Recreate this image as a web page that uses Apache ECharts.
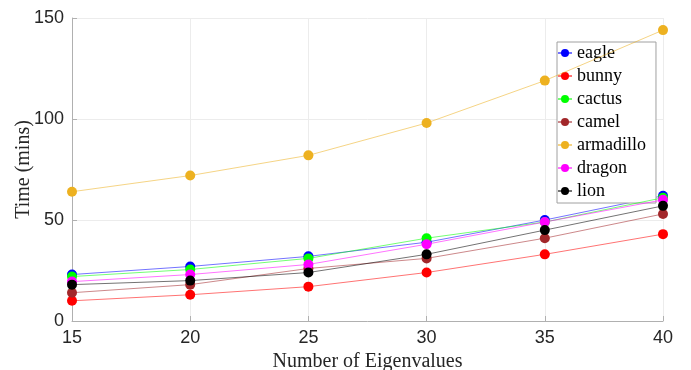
<!DOCTYPE html>
<html>
<head>
<meta charset="utf-8">
<script src="https://cdn.jsdelivr.net/npm/echarts@6/dist/echarts.min.js"></script>
<style>
  html, body { margin: 0; padding: 0; background: #fff; }
  #chart { width: 691px; height: 370px; }
</style>
</head>
<body>
<div id="chart"></div>
<script>
// Eigenvalue count on the x axis
const eigenCounts = [15, 20, 25, 30, 35, 40];

// Runtime in minutes per model
const eagle     = [23, 27, 32, 39, 50, 62];
const bunny     = [10, 13, 17, 24, 33, 43];
const cactus    = [22, 25.5, 31, 41, 49, 61];
const camel     = [14, 18, 26, 31, 41, 53];
const armadillo = [64, 72, 82, 98, 119, 144];
const dragon    = [19.5, 23, 28, 38, 49, 60];
const lion      = [18, 20, 24, 33, 45, 57];

const seriesNames = ['eagle', 'bunny', 'cactus', 'camel', 'armadillo', 'dragon', 'lion'];
const seriesData = [eagle, bunny, cactus, camel, armadillo, dragon, lion];
const seriesColors = ['#0000ff', '#ff0000', '#00ff00', '#a2272a', '#edb120', '#ff00ff', '#000000'];

const serif = 'Liberation Serif';
const sans = 'Liberation Sans';

const chart = echarts.init(document.getElementById('chart'), null, { renderer: 'canvas' });

chart.setOption({
  animation: false,
  backgroundColor: '#ffffff',
  grid: { left: 72, right: 28, top: 18, bottom: 49, outerBoundsMode: 'none', containLabel: false },
  legend: {
    orient: 'vertical',
    left: 557,
    top: 42,
    itemGap: 5,
    itemWidth: 14,
    itemHeight: 10,
    padding: [2, 10, 3, 0],
    backgroundColor: '#ffffff',
    borderColor: '#a0a0a0',
    borderWidth: 1,
    borderRadius: 0,
    textStyle: { fontFamily: serif, fontSize: 18, color: '#000000' },
    data: seriesNames
  },
  xAxis: {
    type: 'value',
    min: 15,
    max: 40,
    interval: 5,
    axisLine: { show: true, lineStyle: { color: '#b0b0b0', width: 1 } },
    axisTick: { show: true, inside: true, length: 5, lineStyle: { color: '#b0b0b0' } },
    axisLabel: { fontFamily: sans, fontSize: 18, color: '#262626', margin: 8 },
    splitLine: { show: true, lineStyle: { color: '#ececec', width: 1 } },
    name: 'Number of Eigenvalues',
    nameLocation: 'middle',
    nameMoveOverlap: false,
    nameGap: 31,
    nameTextStyle: { fontFamily: serif, fontSize: 20, color: '#262626' }
  },
  yAxis: {
    type: 'value',
    min: 0,
    max: 150,
    interval: 50,
    axisLine: { show: true, lineStyle: { color: '#b0b0b0', width: 1 } },
    axisTick: { show: true, inside: true, length: 5, lineStyle: { color: '#b0b0b0' } },
    axisLabel: { fontFamily: sans, fontSize: 18, color: '#262626', margin: 8 },
    splitLine: { show: true, lineStyle: { color: '#ececec', width: 1 } },
    name: 'Time (mins)',
    nameLocation: 'middle',
    nameMoveOverlap: false,
    nameGap: 38,
    nameTextStyle: { fontFamily: serif, fontSize: 20, color: '#262626' }
  },
  series: seriesNames.map((name, i) => ({
    name: name,
    type: 'line',
    data: eigenCounts.map((x, j) => [x, seriesData[i][j]]),
    symbol: 'circle',
    symbolSize: 10,
    itemStyle: { color: seriesColors[i] },
    lineStyle: { color: seriesColors[i], width: 1, opacity: 0.55 },
    z: 2 + i
  }))
});
</script>
</body>
</html>
